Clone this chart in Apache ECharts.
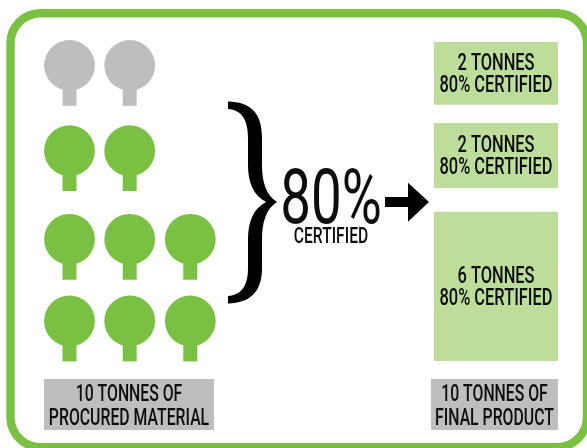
<!DOCTYPE html>
<html><head><meta charset="utf-8">
<script src="https://cdn.jsdelivr.net/npm/echarts@6/dist/echarts.min.js"></script>
<style>html,body{margin:0;padding:0;background:#fff}#c{width:587px;height:448px}</style></head>
<body><div id="c"></div>
<script>
// DATA
const treeRowCounts = [2, 2, 3, 3];
const treeRowCertified = [false, true, true, true];
const productTonnes = [2, 2, 6];
const certifiedPercent = 80;
const procuredLabel = ['10 TONNES OF', 'PROCURED MATERIAL'];
const finalLabel = ['10 TONNES OF', 'FINAL PRODUCT'];
const certifiedWord = 'CERTIFIED';

// LAYOUT
const GREEN = '#7AC143', LIGHT = '#BDDE9B', GREY = '#BCBEC0', INK = '#0d0d0d';
const FONT = 'Roboto';
const treeX = [69.5, 129.7, 190.3];
const treeY = [65.4, 150.7, 239.3, 321];
const boxY = [[42, 104.7], [123, 188], [211.7, 361]];
const boxX = [434, 558];
const bracePath = 'M228,101.5 C250,102 262,112 262,138 L262,165 C262,182 266,195 277,202 C266,209 262,222 262,240 L262,268 C262,292 250,303 228,303.5 L228,296 C242,295 248,285 248,268 L248,240 C248,222 253,209 266,202 C253,195 248,182 248,165 L248,138 C248,120 242,110 228,109 Z';

const trees = [];
treeRowCounts.forEach((n, r) => { for (let c = 0; c < n; c++) trees.push([treeX[c], treeY[r], treeRowCertified[r] ? 1 : 0]); });
const boxes = productTonnes.map((t, i) => [boxX[0], boxY[i][0], boxX[1], boxY[i][1], t]);

function txt(x, y, text, size, sx, weight) {
  return { type: 'text', x: x, y: y, scaleX: sx, style: { x: 0, y: 0, text: text, fill: INK, font: (weight || 500) + ' ' + size + 'px ' + FONT, textAlign: 'center', textVerticalAlign: 'middle' } };
}

const chart = echarts.init(document.getElementById('c'), null, { renderer: 'canvas' });
chart.setOption({
  animation: false,
  backgroundColor: '#fff',
  grid: { left: 0, top: 0, width: 587, height: 448, containLabel: false },
  xAxis: { type: 'value', min: 0, max: 587, show: false },
  yAxis: { type: 'value', min: 0, max: 448, inverse: true, show: false },
  graphic: [
    { type: 'rect', shape: { x: 10.5, y: 13.2, width: 576.5, height: 434, r: 30 }, style: { fill: 'none', stroke: GREEN, lineWidth: 8.4 } },
    { type: 'polygon', shape: { points: [[385, 197], [408, 197], [408, 182.7], [429, 202], [408, 221.7], [408, 207], [385, 207]] }, style: { fill: '#000' } }
  ],
  series: [
    {
      type: 'custom', coordinateSystem: 'cartesian2d', data: trees, silent: true,
      renderItem(p, api) {
        const c = api.coord([api.value(0), api.value(1)]);
        const fill = api.value(2) ? GREEN : GREY;
        return { type: 'group', children: [
          { type: 'circle', shape: { cx: c[0], cy: c[1], r: 25.4 }, style: { fill } },
          { type: 'rect', shape: { x: c[0] - 7, y: c[1] + 15, width: 14, height: 25.4 }, style: { fill } }
        ] };
      }
    },
    {
      type: 'custom', coordinateSystem: 'cartesian2d', data: boxes, silent: true,
      renderItem(p, api) {
        const a = api.coord([api.value(0), api.value(1)]), b = api.coord([api.value(2), api.value(3)]);
        const mx = (a[0] + b[0]) / 2, my = (a[1] + b[1]) / 2;
        return { type: 'group', children: [
          { type: 'rect', shape: { x: a[0], y: a[1], width: b[0] - a[0], height: b[1] - a[1] }, style: { fill: LIGHT } },
          txt(mx, my - 9.8, api.value(4) + ' TONNES', 24.5, 0.67),
          txt(mx, my + 12.6, certifiedPercent + '% CERTIFIED', 24.5, 0.67)
        ] };
      }
    },
    {
      type: 'custom', coordinateSystem: 'none', data: [0], silent: true,
      renderItem() {
        return { type: 'group', children: [
          { type: 'path', shape: { pathData: bracePath, x: 228, y: 101.5, width: 49, height: 202 }, style: { fill: '#000' } },
          { type: 'rect', shape: { x: 44, y: 379, width: 170, height: 51 }, style: { fill: GREY } },
          { type: 'rect', shape: { x: 431, y: 379, width: 127, height: 51 }, style: { fill: GREY } },
          txt(129, 395.3, procuredLabel[0], 24.5, 0.645),
          txt(129, 419.3, procuredLabel[1], 24.5, 0.645),
          txt(494.5, 395.3, finalLabel[0], 24.5, 0.645),
          txt(494.5, 419.3, finalLabel[1], 24.5, 0.645),
          txt(331, 203.5, certifiedPercent + '%', 76, 0.72, 400),
          txt(331, 237.5, certifiedWord, 22, 0.71)
        ] };
      }
    }
  ]
});
</script></body></html>
